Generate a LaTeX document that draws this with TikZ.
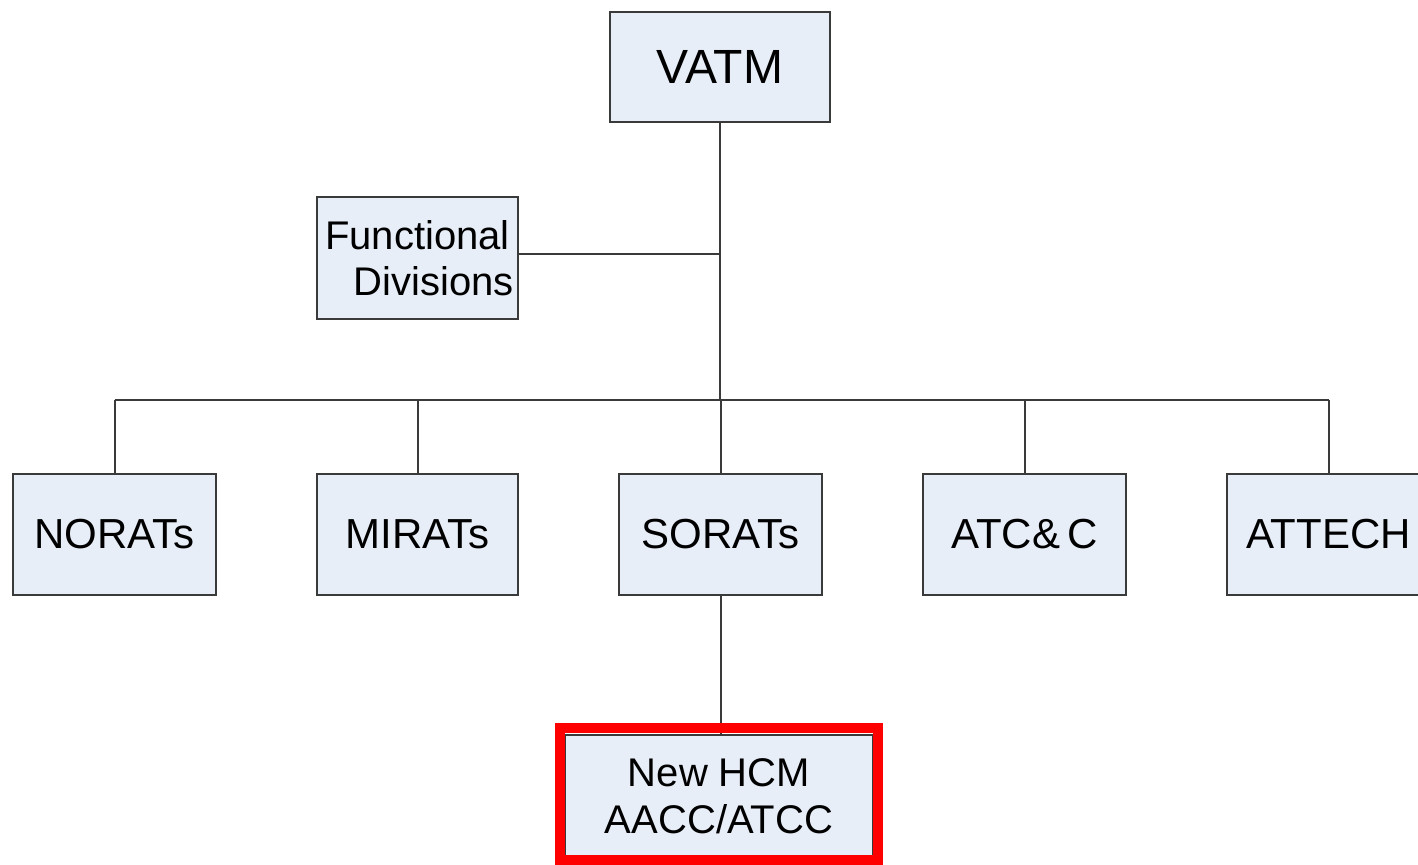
\documentclass[tikz,border=0pt]{standalone}
\usepackage{fontspec}
\setmainfont{Liberation Sans}
\definecolor{boxfill}{HTML}{E8EEF8}
\definecolor{boxline}{HTML}{3A3A3A}
\definecolor{hl}{HTML}{FF0000}
\begin{document}
\begin{tikzpicture}[x=0.5pt,y=-0.5pt,
  orgbox/.style={draw=boxline,fill=boxfill,line width=1pt,inner sep=0pt,
    minimum width=101.5pt,minimum height=60.5pt,align=center,
    font=\fontsize{21}{23.5}\selectfont},
  link/.style={draw=boxline,line width=1pt}]
\useasboundingbox (0,0) rectangle (1418,865);
\node[orgbox,minimum width=110pt,minimum height=55pt,font=\fontsize{24}{28}\selectfont] (vatm) at (720,67) {VATM};
\node[orgbox,minimum width=100.5pt,minimum height=61pt,font=\fontsize{20}{23.5}\selectfont] (func) at (417.5,258) {Functional\\[-0.5pt]\hspace*{16pt}Divisions};
\node[orgbox] (norats) at (114.5,534.5) {NORATs};
\node[orgbox,minimum width=100.5pt] (mirats) at (417.5,534.5) {MIRATs};
\node[orgbox] (sorats) at (720.5,534.5) {SORATs};
\node[orgbox] (atcc) at (1024.5,534.5) {ATC\&\,C};
\node[orgbox] (attech) at (1328.5,534.5) {ATTECH};
\node[orgbox,minimum width=154pt,minimum height=61.5pt,font=\fontsize{20}{23.5}\selectfont] (hcm) at (719,796.5) {New HCM\\AACC/ATCC};
\coordinate (bus) at (720,400);
\draw[link] (vatm.south) -- (vatm.south |- bus);
\draw[link] ([yshift=2pt]func.east) -- ([yshift=2pt]func.east -| vatm.south);
\draw[link] (bus -| norats.north) -- (bus -| attech.north);
\foreach \n in {norats,mirats,sorats,atcc,attech}
  \draw[link] (\n.north) -- (\n.north |- bus);
\draw[link] (sorats.south) -- (sorats.south |- hcm.north);
\node[draw=hl,line width=5pt,inner sep=0pt,minimum width=159pt,minimum height=66pt] (hlbox) at (719,794) {};
\end{tikzpicture}
\end{document}
